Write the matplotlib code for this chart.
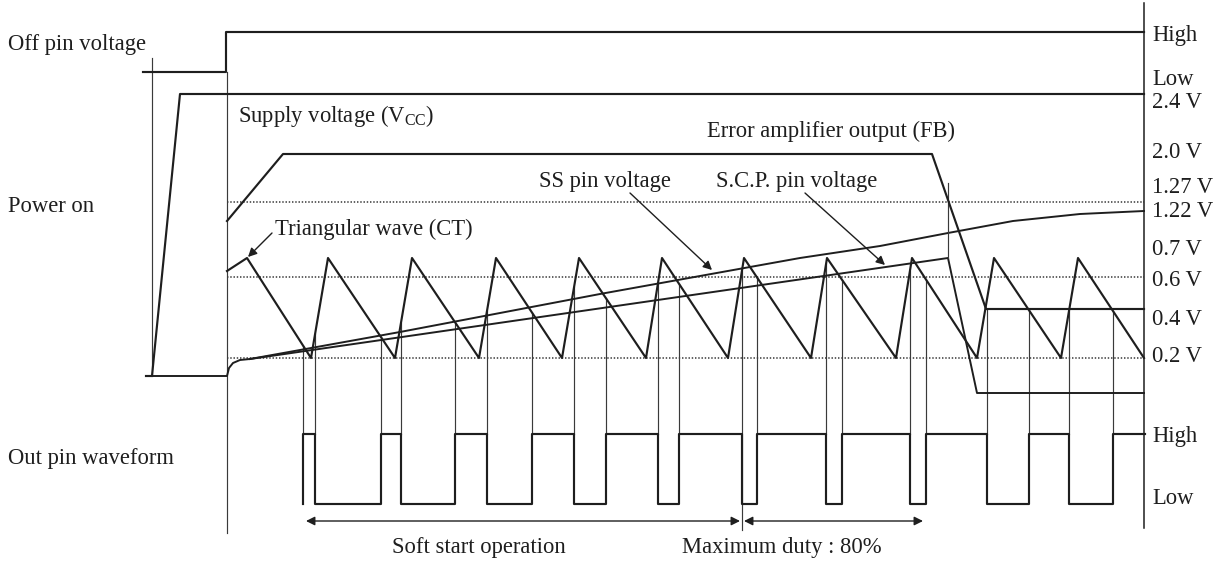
import matplotlib
matplotlib.use("Agg")
import matplotlib.pyplot as plt
import numpy as np

# ------------------------------------------------------------------
# Diagram data.  Horizontal unit = time step of the diagram,
# vertical unit = row of the diagram (top = 0).
# ------------------------------------------------------------------
OFF_HI, OFF_LO = 32, 72
V24, V20, V127, V122 = 94, 154, 202, 211
V07, V06, V04, V02, GND = 258, 277, 309, 358, 376
SCP_LO = 393
OUT_HI, OUT_LO = 434, 504

t_start = 227        # OFF pin released
t_power = 152        # power on
t_end = 1144         # right edge of the diagram

# Off pin voltage
off_t = [143, 226, 226, t_end]
off_v = [OFF_LO, OFF_LO, OFF_HI, OFF_HI]

# Supply voltage (Vcc)
vcc_t = [146, 152, 180, t_end]
vcc_v = [GND, GND, V24, V24]

# SS / SCP common start (rounded start from ground)
ss0_t = [152, 227, 229, 233, 240, 250]
ss0_v = [GND, GND, 368, 363, 360, 359]

# SS pin voltage
ss_t = [250, 400, 600, 800, 880, 948, 1013, 1080, t_end]
ss_v = [359, 332, 294, 258, 246, 233, 221, 214, V122]

# S.C.P. pin voltage
scp_t = [250, 948, 977, t_end]
scp_v = [359, V07, SCP_LO, SCP_LO]
scp_reset_t = 948
scp_reset_top = 183

# Error amplifier output (FB)
fb_t = [227, 283, 932, 986, t_end]
fb_v = [221, V20, V20, V04, V04]

# Triangular wave (CT)
ct_t = [227, 247, 311, 328, 395, 412, 479, 496, 562, 579, 646, 662,
        728, 744, 811, 827, 896, 912, 977, 994, 1061, 1078, t_end]
ct_v = [271, V07, V02, V07, V02, V07, V02, V07, V02, V07, V02, V07,
        V02, V07, V02, V07, V02, V07, V02, V07, V02, V07, V02]

# Out pin waveform edges (starts Low, toggles at each edge)
out_edges = [303, 315, 381, 401, 455, 487, 532, 574, 606, 658, 679,
             742, 757, 826, 842, 910, 926, 987, 1029, 1069, 1113]
out_end = 1145

# Dotted reference levels
dotted_levels = [V127, V06, V02]

# Right-hand level labels
right_labels = ["High", "Low", "2.4 V", "2.0 V", "1.27 V", "1.22 V",
                "0.7 V", "0.6 V", "0.4 V", "0.2 V", "High", "Low"]
right_label_rows = [41, 85, 108, 158, 193, 217, 255, 286, 325, 362, 442, 504]

# Left-hand signal names
left_labels = ["Off pin voltage", "Power on", "Out pin waveform"]
left_label_rows = [50, 212, 464]

# Interval markers
soft_start = (304, 742)
max_duty = (742, 925)
interval_row = 521

# ------------------------------------------------------------------
plt.rcParams["font.family"] = ["Liberation Serif", "DejaVu Serif"]
plt.rcParams["mathtext.fontset"] = "custom"
plt.rcParams["mathtext.rm"] = "Liberation Serif"
plt.rcParams["mathtext.it"] = "Liberation Serif:italic"

INK = "#1e1e1e"
THIN = "#3a3a3a"
FS = 16.3
THICK_LW = 1.55
THIN_LW = 0.85

fig = plt.figure(figsize=(12.24, 5.62), dpi=100)
ax = fig.add_axes([0, 0, 1, 1])
ax.set_xlim(0, 1224)
ax.set_ylim(562, 0)
ax.axis("off")

# dotted levels
for lv in dotted_levels:
    ax.plot([t_start, t_end], [lv, lv], color="#555555", lw=1.3,
            linestyle=(0, (0.8, 1.0)), zorder=1)

# frame lines
ax.plot([t_end, t_end], [3, 528], color=INK, lw=1.1, zorder=2)
ax.plot([t_start, t_start], [OFF_LO, 533], color=THIN, lw=THIN_LW, zorder=2)
ax.plot([t_power, t_power], [58, GND], color=THIN, lw=THIN_LW, zorder=2)

# signals
ax.plot(off_t, off_v, color=INK, lw=THICK_LW, zorder=3)
ax.plot(vcc_t, vcc_v, color=INK, lw=THICK_LW, zorder=3)
ax.plot(ss0_t, ss0_v, color=INK, lw=THICK_LW * 0.9, zorder=3)
ax.plot(ss_t, ss_v, color=INK, lw=THICK_LW * 0.9, zorder=3)
ax.plot(scp_t, scp_v, color=INK, lw=THICK_LW * 0.9, zorder=3)
ax.plot([scp_reset_t, scp_reset_t], [scp_reset_top, V07], color=THIN,
        lw=THIN_LW, zorder=3)
ax.plot(fb_t, fb_v, color=INK, lw=THICK_LW, zorder=3)
ax.plot(ct_t, ct_v, color=INK, lw=THICK_LW, zorder=3)

# out pin waveform
ox, oy = [], []
state = OUT_LO
for e in out_edges:
    ox += [e, e]
    new = OUT_HI if state == OUT_LO else OUT_LO
    oy += [state, new]
    state = new
ox.append(out_end)
oy.append(state)
ax.plot(ox, oy, color=INK, lw=THICK_LW, zorder=3)

# thin vertical lines from the comparison points down to the output
edges = np.array(out_edges, dtype=float)
tops = np.maximum(np.interp(edges, ct_t, ct_v), np.interp(edges, fb_t, fb_v))
marker_edges = {soft_start[0], soft_start[1], max_duty[1]}
for e, top in zip(out_edges, tops):
    bottom = 530 if e in marker_edges else OUT_HI
    ax.plot([e, e], [top, bottom], color=THIN, lw=THIN_LW, zorder=2)

# interval arrows
arrow_kw = dict(arrowstyle="<|-|>", color=INK, lw=1.0, mutation_scale=13,
                shrinkA=0, shrinkB=0)
for a, b in (soft_start, max_duty):
    ax.annotate("", xy=(b - 2, interval_row), xytext=(a + 2, interval_row),
                arrowprops=arrow_kw)

ax.text(392, 553, "Soft start operation", fontsize=FS, color=INK, va="baseline")
ax.text(682, 553, "Maximum duty : 80%", fontsize=FS, color=INK, va="baseline")

# labels
for s, r in zip(left_labels, left_label_rows):
    ax.text(8, r, s, fontsize=FS, color=INK, va="baseline")
for s, r in zip(right_labels, right_label_rows):
    ax.text(1152, r, s, fontsize=FS, color=INK, va="baseline")

ax.text(238, 122, r"Supply voltage (V$_{\mathrm{CC}}$)", fontsize=FS, color=INK,
        va="baseline")
ax.text(707, 137, "Error amplifier output (FB)", fontsize=FS, color=INK,
        va="baseline")
ax.text(539, 187, "SS pin voltage", fontsize=FS, color=INK, va="baseline")
ax.text(716, 187, "S.C.P. pin voltage", fontsize=FS, color=INK, va="baseline")
ax.text(275, 235, "Triangular wave (CT)", fontsize=FS, color=INK, va="baseline")

pointer_kw = dict(arrowstyle="-|>", color=INK, lw=1.0, mutation_scale=13,
                  shrinkA=0, shrinkB=0)
ax.annotate("", xy=(248, 257), xytext=(272, 233), arrowprops=pointer_kw)
ax.annotate("", xy=(712, 270), xytext=(630, 193), arrowprops=pointer_kw)
ax.annotate("", xy=(885, 265), xytext=(805, 193), arrowprops=pointer_kw)

fig.savefig("out.png", dpi=100)
